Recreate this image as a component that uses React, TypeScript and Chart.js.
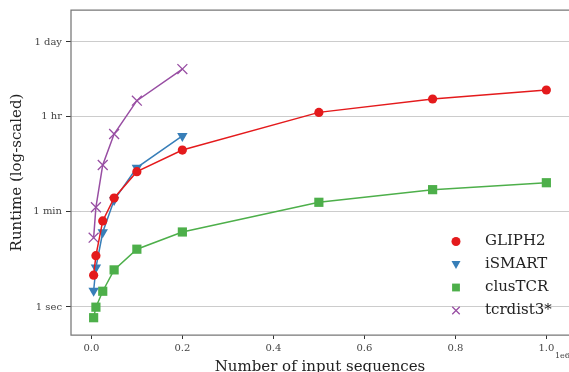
import React, { useEffect, useRef } from "react";
import { Chart, registerables } from "chart.js";

Chart.register(...registerables);

const sizes = [5000, 10000, 25000, 50000, 100000, 200000, 500000, 750000, 1000000];
const gliph2 = [3.9, 9.0, 40, 107, 331, 836, 4210, 7470, 11000];
const ismart = [2.0, 5.4, 24.6, 98, 393, 1530];
const clustcr = [0.63, 0.99, 1.96, 4.9, 11.9, 24.9, 89, 153, 206];
const tcrdist3 = [19.5, 72, 441, 1667, 6950, 27000];

const yTickValues = [1, 60, 3600, 86400];
const yTickLabels = ["1 sec", "1 min", "1 hr", "1 day"];
const xTickValues = [0, 200000, 400000, 600000, 800000, 1000000];

const FONT = "'DejaVu Serif', serif";

const seriesDefs = [
  { label: "GLIPH2", data: gliph2, color: "#e41a1c", style: "circle", rot: 0, r: 4.6 },
  { label: "iSMART", data: ismart, color: "#377eb8", style: "triangle", rot: 180, r: 6 },
  { label: "clusTCR", data: clustcr, color: "#4daf4a", style: "rect", rot: 0, r: 6.5 },
  { label: "tcrdist3*", data: tcrdist3, color: "#984ea3", style: "crossRot", rot: 0, r: 7 },
];

function drawMarker(ctx: CanvasRenderingContext2D, style: string, x: number, y: number, s: number, color: string) {
  ctx.save();
  ctx.fillStyle = color;
  ctx.strokeStyle = color;
  ctx.lineWidth = 1.3;
  ctx.beginPath();
  if (style === "circle") {
    ctx.arc(x, y, s / 2, 0, Math.PI * 2);
    ctx.fill();
  } else if (style === "triangle") {
    ctx.moveTo(x - s / 2, y - s / 2.6);
    ctx.lineTo(x + s / 2, y - s / 2.6);
    ctx.lineTo(x, y + s / 2);
    ctx.closePath();
    ctx.fill();
  } else if (style === "rect") {
    ctx.rect(x - s / 2.3, y - s / 2.3, s / 1.15, s / 1.15);
    ctx.fill();
  } else {
    const h = s / 2.4;
    ctx.moveTo(x - h, y - h);
    ctx.lineTo(x + h, y + h);
    ctx.moveTo(x + h, y - h);
    ctx.lineTo(x - h, y + h);
    ctx.stroke();
  }
  ctx.restore();
}

const extrasPlugin = {
  id: "extras",
  afterDraw(chart: any) {
    const { ctx, chartArea } = chart;
    ctx.save();
    ctx.strokeStyle = "#777777";
    ctx.lineWidth = 1.25;
    ctx.beginPath();
    ctx.moveTo(chartArea.right + 2, chartArea.top);
    ctx.lineTo(chartArea.left, chartArea.top);
    ctx.lineTo(chartArea.left, chartArea.bottom);
    ctx.lineTo(chartArea.right + 2, chartArea.bottom);
    ctx.stroke();
    ctx.fillStyle = "#444444";
    ctx.font = "8px " + FONT;
    ctx.textAlign = "left";
    ctx.textBaseline = "middle";
    ctx.fillText("1e6", 555, 356);
    const lx = 456;
    const tx = 485;
    const ys = [241.5, 264.5, 287.5, 310.5];
    seriesDefs.forEach((s, i) => {
      const y = ys[i];
      drawMarker(ctx, s.style, lx, y, 9, s.color);
      ctx.fillStyle = "#222222";
      ctx.font = "15px " + FONT;
      ctx.textAlign = "left";
      ctx.textBaseline = "middle";
      ctx.fillText(s.label, tx, y);
    });
    ctx.restore();
  },
};

export default function App() {
  const ref = useRef<HTMLCanvasElement | null>(null);
  useEffect(() => {
    if (!ref.current) return;
    const chart = new Chart(ref.current, {
      type: "line",
      data: {
        datasets: seriesDefs.map((s) => ({
          label: s.label,
          data: s.data.map((v, i) => ({ x: sizes[i], y: v })),
          borderColor: s.color,
          backgroundColor: s.color,
          pointBackgroundColor: s.color,
          pointBorderColor: s.color,
          pointStyle: s.style as any,
          pointRotation: s.rot,
          pointRadius: s.r,
          pointBorderWidth: s.style === "crossRot" ? 1.3 : 0,
          borderWidth: 1.5,
          tension: 0,
        })),
      },
      options: {
        animation: false,
        responsive: false,
        layout: { autoPadding: false, padding: { top: 10, right: 0, left: 0, bottom: 0 } },
        plugins: { legend: { display: false }, tooltip: { enabled: false } },
        scales: {
          x: {
            type: "linear",
            min: -44750,
            max: 1049750,
            afterBuildTicks: (scale: any) => {
              scale.ticks = xTickValues.map((v) => ({ value: v }));
            },
            afterFit: (scale: any) => {
              scale.height = 37;
              scale.paddingLeft = 0;
              scale.paddingRight = 0;
            },
            ticks: {
              callback: (v: any) => (Number(v) / 1e6).toFixed(1),
              font: { family: FONT, size: 10 },
              color: "#444444",
              padding: 3,
              maxRotation: 0,
              autoSkip: false,
            },
            grid: { display: true, drawOnChartArea: false, drawTicks: true, tickLength: 4, color: "#333333" },
            border: { display: false },
            title: {
              display: true,
              text: "Number of input sequences",
              font: { family: FONT, size: 15, lineHeight: 1 },
              color: "#222222",
              padding: { top: 0, bottom: -3 },
            },
          },
          y: {
            type: "logarithmic",
            min: 0.3,
            max: 340000,
            afterBuildTicks: (scale: any) => {
              scale.ticks = yTickValues.map((v) => ({ value: v }));
            },
            afterFit: (scale: any) => {
              scale.width = 71;
              scale.paddingTop = 0;
              scale.paddingBottom = 0;
            },
            ticks: {
              callback: (v: any) => {
                const idx = yTickValues.indexOf(Number(v));
                return idx >= 0 ? yTickLabels[idx] : "";
              },
              font: { family: FONT, size: 10 },
              color: "#444444",
              padding: 4,
              autoSkip: false,
            },
            grid: {
              display: true,
              drawOnChartArea: true,
              drawTicks: true,
              tickLength: 5,
              color: "#cccccc",
              tickColor: "#333333",
              lineWidth: 1,
            },
            border: { display: false },
            title: {
              display: true,
              text: "Runtime (log-scaled)",
              font: { family: FONT, size: 15, lineHeight: 1 },
              color: "#222222",
              padding: { top: 10, bottom: 0 },
            },
          },
        },
      },
      plugins: [extrasPlugin],
    } as any);
    return () => chart.destroy();
  }, []);
  return (
    <div style={{ position: "fixed", left: 0, top: 0, width: 569, height: 372, background: "#fff", overflow: "hidden" }}>
      <canvas ref={ref} width={569} height={372} style={{ width: 569, height: 372, display: "block" }} />
    </div>
  );
}
